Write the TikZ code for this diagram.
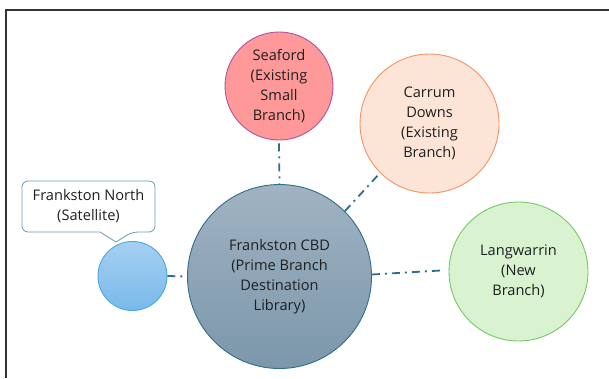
\documentclass[tikz,border=0pt]{standalone}
\usepackage{fontspec}
\setmainfont{Open Sans}
\usetikzlibrary{calc}
\begin{document}
\begin{tikzpicture}[x=1pt,y=-1pt,
  lbl/.style={font=\fontsize{14.6}{20}\selectfont, align=center, text=black!88, inner sep=0pt},
  bubble/.style={circle, draw, line width=0.9pt, inner sep=0pt},
  link/.style={draw=linkblue, line width=1.8pt, dash pattern=on 8pt off 5pt on 2pt off 5pt}
]
\definecolor{linkblue}{HTML}{2A6F8F}
\definecolor{seafill}{HTML}{FF9999}
\definecolor{seadraw}{HTML}{B050A0}
\definecolor{carfill}{HTML}{FCE4D6}
\definecolor{cardraw}{HTML}{F29466}
\definecolor{langfill}{HTML}{D9F2D0}
\definecolor{langdraw}{HTML}{76C766}
\definecolor{cbdtop}{HTML}{A0B3C2}
\definecolor{cbdbot}{HTML}{7C97AB}
\definecolor{cbddraw}{HTML}{2E6E8E}
\definecolor{sattop}{HTML}{A6D0F2}
\definecolor{satbot}{HTML}{78B9EA}
\definecolor{satdraw}{HTML}{4AA8DD}
\useasboundingbox (0,0) rectangle (609,378);
\fill[white] (0,0) rectangle (609,378);
\draw[line width=1.4pt, black!80] (6,378) -- (6,10) -- (609,10);

\node[bubble, minimum size=108pt, fill=seafill, draw=seadraw] (sea) at (279,86) {};
\node[lbl] at (sea) {Seaford\\(Existing\\Small\\Branch)};
\node[bubble, minimum size=139pt, fill=carfill, draw=cardraw] (car) at (429.5,123.5) {};
\node[lbl] at (car) {Carrum\\Downs\\(Existing\\Branch)};
\node[bubble, minimum size=184pt, top color=cbdtop, bottom color=cbdbot, draw=cbddraw] (cbd) at (279.5,276.5) {};
\node[lbl] at (cbd) {Frankston CBD\\(Prime Branch\\Destination\\Library)};
\node[bubble, minimum size=139pt, fill=langfill, draw=langdraw] (lang) at (518.5,271.5) {};
\node[lbl] at (lang) {Langwarrin\\(New\\Branch)};
\node[bubble, minimum size=69pt, top color=sattop, bottom color=satbot, draw=satdraw] (sat) at (132.5,276) {};

\coordinate (tip) at (116,242);
\draw[draw=cbddraw!70, line width=0.8pt, fill=white, rounded corners=6pt]
  (22,181) -- (155,181) -- (155,232) -- (132,232) [sharp corners] -- (tip) -- (100,232) [rounded corners=6pt] -- (22,232) -- cycle;
\node[lbl] (callout) at (88.5,206.5) {Frankston North\\(Satellite)};

\path[link] ($(sea.south)+(0,3)$) -- (cbd.north);
\path[link] (cbd.45) -- (car.225);
\path[link] ($(cbd.east)+(0,-2)$) -- ($(lang.west)+(-8,-1)$);
\path[link] (sat.east) -- (cbd.west);
\end{tikzpicture}
\end{document}
